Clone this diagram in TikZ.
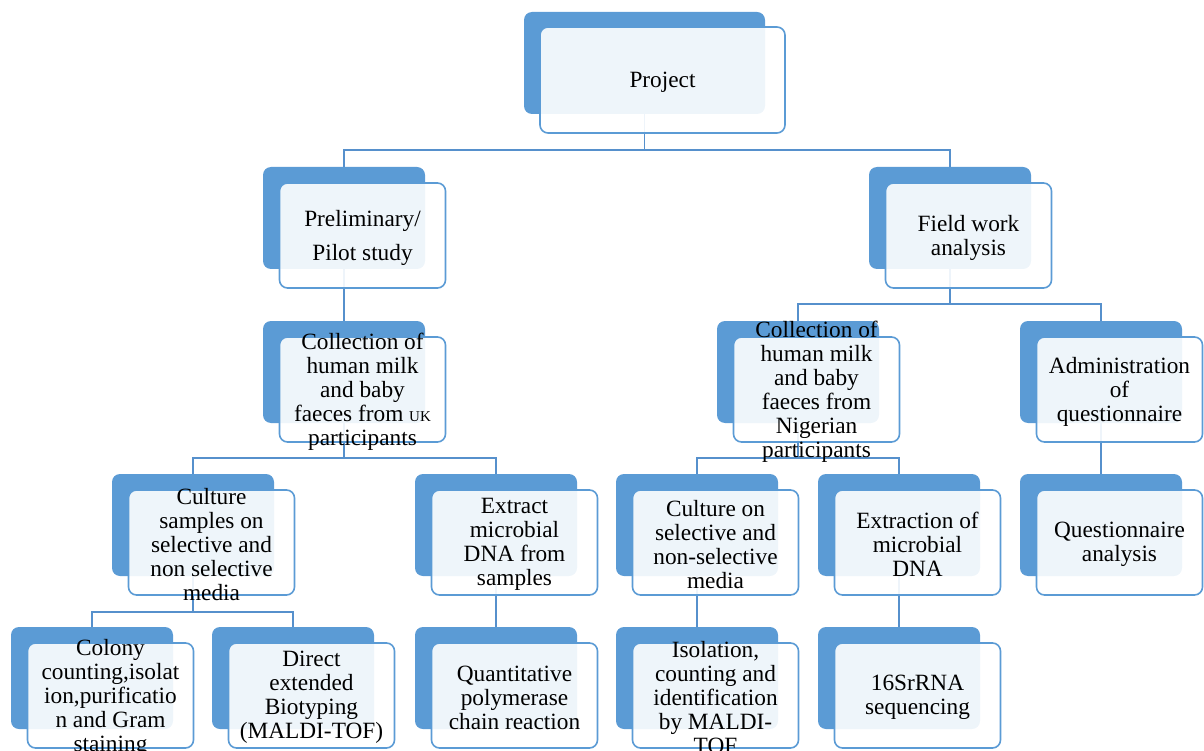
\documentclass[tikz,border=0pt]{standalone}
\usepackage{fontspec}
\setmainfont{Liberation Serif}
\usetikzlibrary{backgrounds}
\definecolor{sablue}{HTML}{5B9BD5}
\definecolor{lineblue}{HTML}{5690CC}
\tikzset{
  back/.style={rectangle, rounded corners=8pt, fill=sablue, draw=none,
    minimum width=162pt, minimum height=102pt, anchor=north west, inner sep=0pt, outer sep=0pt},
  front/.style={rectangle, rounded corners=8pt, fill=white, fill opacity=0.9, draw=sablue,
    line width=1.6pt, minimum width=166pt, minimum height=105pt, anchor=north west, inner sep=0pt, outer sep=0pt},
  lbl/.style={align=center, font=\fontsize{23.3}{24}\selectfont, text=black, inner sep=0pt},
  conn/.style={draw=lineblue, line width=1.8pt}
}
\newcommand{\pbox}[4]{%
  \node[back] (#1) at (#2,#3) {};
  \node[front] (#1f) at ([shift={(16.5,16)}]#1.north west) {};
  \node[lbl] (#1t) at ([shift={(0,2)}]#1f.center) {#4};
}
\begin{document}
\begin{tikzpicture}[x=1pt,y=-1pt]
\useasboundingbox (0,0) rectangle (1204,751);
% Project
\node[back, minimum width=241pt] (project) at (524,12) {};
\node[front, minimum width=245pt, minimum height=106pt] (projectf) at (540,27) {};
\node[lbl] (projectt) at ([shift={(0,2)}]projectf.center) {Project};
% level 1
\pbox{prelim}{263}{167}{Preliminary/\\[10pt]Pilot study}
\pbox{field}{869}{167}{Field work\\analysis}
% level 2
\pbox{uk}{263}{321}{Collection of\\human milk\\and baby\\faeces from {\fontsize{15}{15}\selectfont UK}\\participants}
\pbox{ng}{717}{321}{Collection of\\human milk\\and baby\\faeces from\\Nigerian\\participants}
\pbox{admin}{1020}{321}{Administration\\of\\questionnaire}
% level 3
\pbox{cult}{112}{474}{Culture\\samples on\\selective and\\non selective\\media}
\pbox{extr}{415}{474}{Extract\\microbial\\DNA from\\samples}
\pbox{culton}{616}{474}{Culture on\\selective and\\non-selective\\media}
\pbox{extrof}{818}{474}{Extraction of\\microbial\\DNA}
\pbox{qa}{1020}{474}{Questionnaire\\analysis}
% level 4
\pbox{colony}{11}{627}{Colony\\counting,isolat\\ion,purificatio\\n and Gram\\staining}
\pbox{direct}{212}{627}{Direct\\extended\\Biotyping\\(MALDI-TOF)}
\pbox{qpcr}{415}{627}{Quantitative\\polymerase\\chain reaction}
\pbox{isol}{616}{627}{Isolation,\\counting and\\identification\\by MALDI-\\TOF}
\pbox{seq}{818}{627}{16SrRNA\\sequencing}
% connectors
\begin{scope}[on background layer]
\draw[conn] (project.south) -- ++(0,36) -| (prelim.north);
\draw[conn] (project.south) -- ++(0,36) -| (field.north);
\draw[conn] (prelim.south) -- (uk.north);
\draw[conn] (field.south) -- ++(0,35) -| (ng.north);
\draw[conn] (field.south) -- ++(0,35) -| (admin.north);
\draw[conn] (uk.south) -- ++(0,35) -| (cult.north);
\draw[conn] (uk.south) -- ++(0,35) -| (extr.north);
\draw[conn] (ng.south) -- ++(0,35) -| (culton.north);
\draw[conn] (ng.south) -- ++(0,35) -| (extrof.north);
\draw[conn] (admin.south) -- (qa.north);
\draw[conn] (cult.south) -- ++(0,36) -| (colony.north);
\draw[conn] (cult.south) -- ++(0,36) -| (direct.north);
\draw[conn] (extr.south) -- (qpcr.north);
\draw[conn] (culton.south) -- (isol.north);
\draw[conn] (extrof.south) -- (seq.north);
\end{scope}
\end{tikzpicture}
\end{document}
